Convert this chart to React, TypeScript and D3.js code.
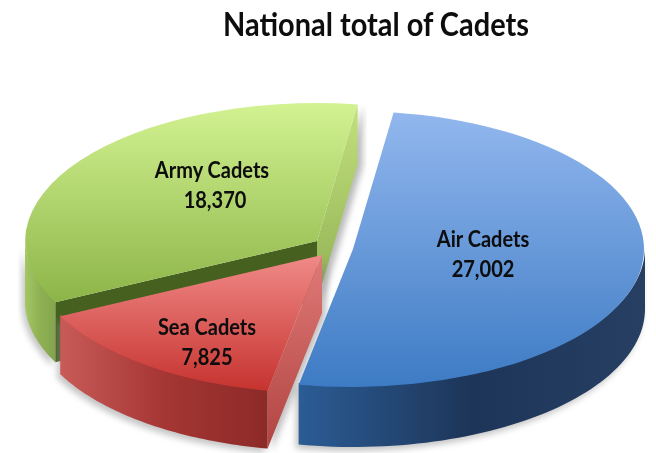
import React from "react";
import * as d3 from "d3";

const W = 656, H = 453;
const categories = ["Air Cadets", "Sea Cadets", "Army Cadets"];
const values = [27002, 7825, 18370];
const valueLabels = ["27,002", "7,825", "18,370"];
const title = "National total of Cadets";
const centersX = [353, 322, 317];
const centersY = [249, 255, 241];
const depths = [60, 58, 60];
const labelX = [483, 207, 212];
const labelY = [247, 335, 178];
const topStops = [["#92b7ee", "#3d7bc4"], ["#f08a88", "#c6332f"], ["#d3f292", "#8cb548"]];
const wallStops = [
  ["#2b5c95", "#1d3558", "#263f62"],
  ["#c85a58", "#a53633", "#8c2a28"],
  ["#a3c765", "#8fb052", "#84a54c"],
];
const faceStops = [["", ""], ["#e07a78", "#b04441"], ["#c3e07e", "#8fb052"]];
const darkFace = "#46601f";
const rx = 292, ry = 138;
const fontFamily = "Lato, 'Open Sans', sans-serif";
const rotation = (8 * Math.PI) / 180;

const pie = d3.pie<number>().sort(null).startAngle(rotation).endAngle(rotation + 2 * Math.PI);
const slices = pie(values);
const topArc = d3.arc<any>().innerRadius(0).outerRadius(1);
const sx = d3.scaleLinear().domain([-1, 1]).range([-rx, rx]);
const sy = d3.scaleLinear().domain([-1, 1]).range([-ry, ry]);
const ex = (i: number, a: number) => centersX[i] + sx(Math.sin(a));
const ey = (i: number, a: number) => centersY[i] + sy(-Math.cos(a));

function wall(i: number, a0: number, a1: number) {
  const angles = d3.range(0, 61).map((k) => a0 + ((a1 - a0) * k) / 60);
  return d3
    .area<number>()
    .x((a) => ex(i, a))
    .y0((a) => ey(i, a) - 1.5)
    .y1((a) => ey(i, a) + depths[i])(angles) as string;
}
function face(i: number, a: number) {
  const x0 = centersX[i], y0 = centersY[i], x1 = ex(i, a), y1 = ey(i, a), d = depths[i];
  return d3.line()([[x0, y0], [x1, y1], [x1, y1 + d], [x0, y0 + d]]) + "Z";
}

const HALF = Math.PI / 2;
const order = [2, 1, 0];

export default function App() {
  return (
    <svg width={W} height={H} style={{ position: "absolute", left: 0, top: 0, background: "#fff" }} fontFamily={fontFamily}>
      <defs>
        <filter id="sh" x="-10%" y="-10%" width="120%" height="120%">
          <feGaussianBlur stdDeviation="3" />
        </filter>
        <filter id="soft" x="-5%" y="-20%" width="110%" height="140%">
          <feGaussianBlur stdDeviation="0.4" />
        </filter>
        {categories.map((_, i) => (
          <React.Fragment key={i}>
            <linearGradient id={`top${i}`} x1="0" y1="0" x2="0" y2="1">
              <stop offset="0" stopColor={topStops[i][0]} />
              <stop offset="1" stopColor={topStops[i][1]} />
            </linearGradient>
            <linearGradient id={`wall${i}`} x1="0" y1="0" x2="1" y2="0">
              <stop offset="0" stopColor={wallStops[i][0]} />
              <stop offset="0.5" stopColor={wallStops[i][1]} />
              <stop offset="1" stopColor={wallStops[i][2]} />
            </linearGradient>
            <linearGradient id={`face${i}`} x1="0" y1="0" x2="0" y2="1">
              <stop offset="0" stopColor={faceStops[i][0] || "#000"} />
              <stop offset="1" stopColor={faceStops[i][1] || "#000"} />
            </linearGradient>
          </React.Fragment>
        ))}
      </defs>
      {order.map((i) => {
        const s = slices[i];
        const a0 = Math.max(s.startAngle, HALF);
        const a1 = Math.min(s.endAngle, 3 * HALF);
        const outer = wall(i, a0, a1);
        return (
          <g key={i}>
            <path d={outer} transform="translate(-3,4)" fill="#8a8a8a" opacity={0.5} filter="url(#sh)" />
            {i === 2 && <path d={face(2, s.endAngle)} transform="translate(5,2)" fill="#777" opacity={0.5} filter="url(#sh)" />}
            {i === 1 && <path d={face(1, s.startAngle)} transform="translate(4,3)" fill="#777" opacity={0.45} filter="url(#sh)" />}
            {i === 2 && <path d={face(2, s.startAngle)} fill={darkFace} />}
            {i === 2 && <path d={face(2, s.endAngle)} fill={`url(#face2)`} />}
            {i === 1 && <path d={face(1, s.startAngle)} fill={`url(#face1)`} />}
            <path d={outer} fill={`url(#wall${i})`} />
            <path
              d={topArc({ startAngle: s.startAngle, endAngle: s.endAngle }) as string}
              transform={`translate(${centersX[i]},${centersY[i]}) scale(${rx},${ry})`}
              fill={`url(#top${i})`}
            />
          </g>
        );
      })}
      <text transform="translate(376,36) scale(0.92,1)" textAnchor="middle" fontSize={31.5} fontWeight={700} fill="#111" filter="url(#soft)">
        {title}
      </text>
      {categories.map((c, i) => (
        <g key={c} fontSize={22} fontWeight={700} fill="#0a0a0a" textAnchor="middle" filter="url(#soft)">
          <text transform={`translate(${labelX[i]},${labelY[i]}) scale(0.91,1)`}>{c}</text>
          <text transform={`translate(${labelX[i] + (i === 2 ? 3 : 0)},${labelY[i] + 30}) scale(0.91,1)`}>{valueLabels[i]}</text>
        </g>
      ))}
    </svg>
  );
}
